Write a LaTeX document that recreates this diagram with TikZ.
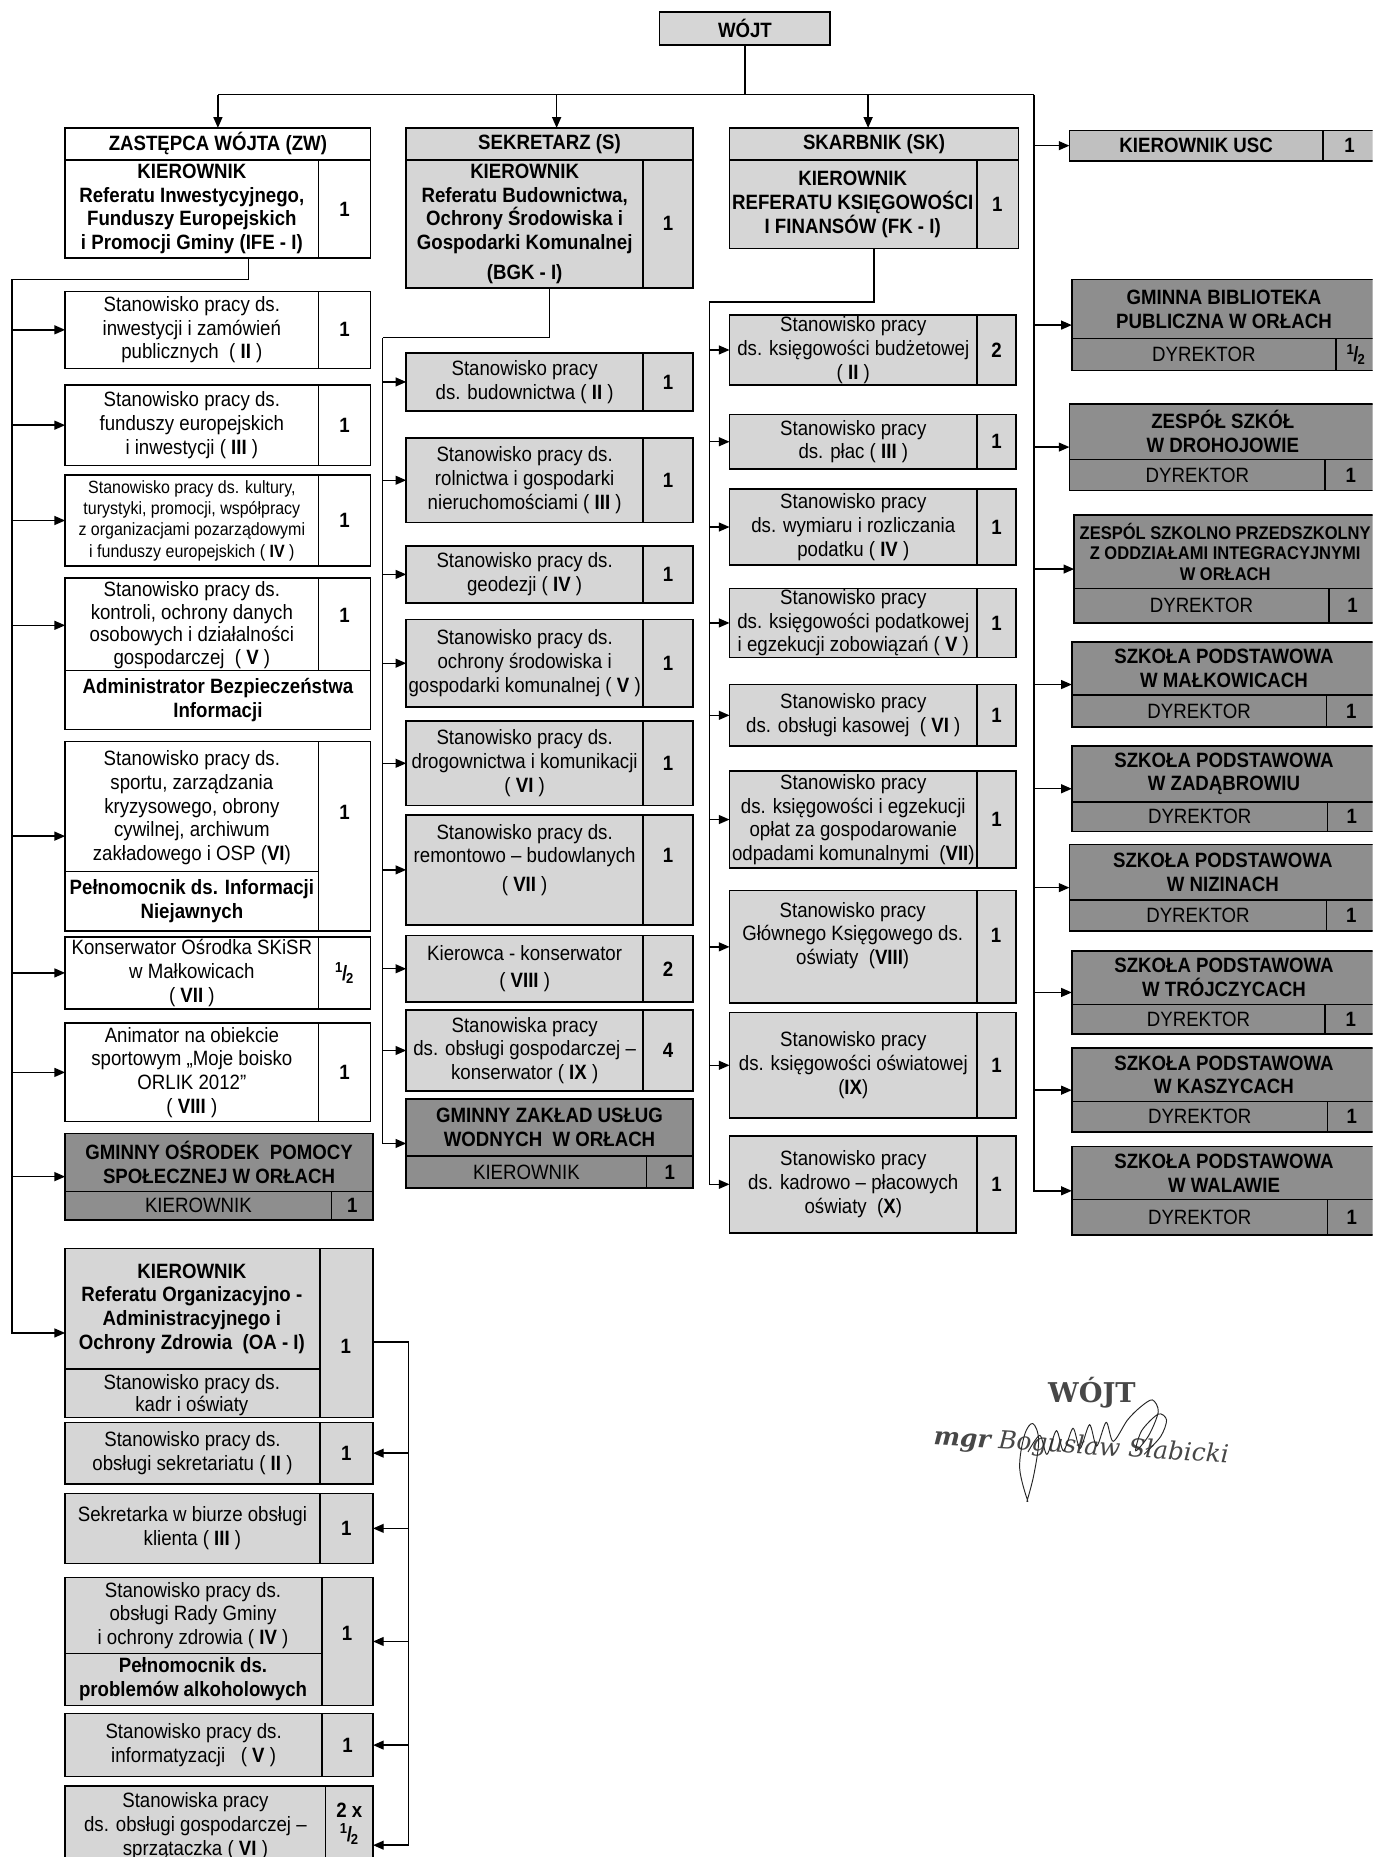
\documentclass[tikz,border=0pt]{standalone}
\usepackage{fontspec}
\setmainfont[FakeStretch=0.9]{Liberation Sans}
\newfontfamily\sigfont{DejaVu Serif}
\usetikzlibrary{arrows.meta}
\definecolor{lg}{RGB}{214,214,214}
\definecolor{mg}{RGB}{192,192,192}
\definecolor{dg}{RGB}{142,142,142}
\newcommand\fn{\fontsize{17.5}{20}\selectfont}
\newcommand\fnt{\fontsize{17.5}{19}\selectfont}
\newcommand\fsm{\fontsize{15}{18}\selectfont}
\newcommand\fsmb{\fontsize{15.5}{17.5}\selectfont}
\newcommand\half{\textsuperscript{1}\kern-.05em/\kern-.05em\textsubscript{2}}
\tikzset{
  bx/.style={draw, line width=1.3pt, inner sep=0pt, outer sep=0pt, anchor=north west},
  ln/.style={line width=1.3pt},
  tx/.style={align=center, inner sep=0pt, font=\fn},
  txb/.style={align=center, inner sep=0pt, font=\fn\bfseries},
  num/.style={align=center, inner sep=0pt, font=\fn\bfseries},
  con/.style={line width=1.2pt},
  arr/.style={line width=1.2pt, -{Triangle[length=9pt,width=7.5pt]}},
}
% name, fill, x1, y1, x2, y2, divx, text, number
\newcommand\orgbox[9]{%
  \node[bx, fill=#2, minimum width={#5-#3}, minimum height={#6-#4}] (#1) at (#3,#4) {};
  \draw[ln] (#7,#4) -- (#7,#6);
  \node[tx] (#1-t) at ({(#3+#7)/2},{(#4+#6)/2}) {#8};
  \node[num] (#1-n) at ({(#7+#5)/2},{(#4+#6)/2}) {#9};
}
% name, x1, x2, y1, ymid, y2, divx, header, number ; bottom label in \btm
\newcommand\darkbox[9]{%
  \node[bx, fill=dg, minimum width={#3-#2}, minimum height={#6-#4}] (#1) at (#2,#4) {};
  \draw[ln] (#2,#5) -- (#3,#5);
  \draw[ln] (#7,#5) -- (#7,#6);
  \node[txb] (#1-h) at ({(#2+#3)/2},{(#4+#5)/2}) {#8};
  \node[tx] (#1-b) at ({(#2+#7)/2},{(#5+#6)/2}) {\btm};
  \node[num] (#1-n) at ({(#7+#3)/2},{(#5+#6)/2}) {#9};
}
\begin{document}
\begin{tikzpicture}[x=1pt,y=-1pt]
\useasboundingbox (0,0) rectangle (1159,1568);
\clip (0,0) rectangle (1159,1568);
\fill[white] (0,0) rectangle (1159,1568);

% ---------- top ----------
\node[draw, line width=1.3pt, fill=lg, minimum width=144, minimum height=28, inner sep=0pt, font=\fn\bfseries] (w) at (629,24) {WÓJT};

% ZW
\node[bx, fill=white, minimum width=258, minimum height=110] (zw) at (55,108) {};
\draw[ln] (55,135) -- (313,135);
\draw[ln] (269,135) -- (269,218);
\node[txb] (zw-h) at (184,121.5) {ZASTĘPCA WÓJTA (ZW)};
\node[txb] (zw-t) at (162,176.5) {KIEROWNIK\\Referatu Inwestycyjnego,\\Funduszy Europejskich\\i Promocji Gminy (IFE - I)};
\node[num] (zw-n) at (291,176.5) {1};

% S
\node[bx, fill=lg, minimum width=242, minimum height=135] (s) at (343,108) {};
\draw[ln] (343,135) -- (585,135);
\draw[ln] (543,135) -- (543,243);
\node[txb] (s-h) at (464,121.5) {SEKRETARZ (S)};
\node[txb] (s-t) at (443,189) {KIEROWNIK\\Referatu Budownictwa,\\Ochrony Środowiska i\\Gospodarki Komunalnej\\[5pt](BGK - I)};
\node[num] (s-n) at (564,189) {1};

% SK
\node[bx, fill=lg, minimum width=244, minimum height=102] (sk) at (616,108) {};
\draw[ln] (616,135) -- (860,135);
\draw[ln] (825,135) -- (825,210);
\node[txb] (sk-h) at (738,121.5) {SKARBNIK (SK)};
\node[txb] (sk-t) at (720,172.5) {KIEROWNIK\\REFERATU KSIĘGOWOŚCI\\I FINANSÓW (FK - I)};
\node[num] (sk-n) at (842,172.5) {1};

% ---------- left column ----------
\orgbox{l1}{white}{55}{246}{313}{311}{269}{Stanowisko pracy ds.\\inwestycji i zamówień\\publicznych~ ( \textbf{II} )}{1}
\orgbox{l2}{white}{55}{325}{313}{393}{269}{Stanowisko pracy ds.\\funduszy europejskich\\i inwestycji ( \textbf{III} )}{1}
\begin{scope}[tx/.append style={font=\fsm}]
\orgbox{l3}{white}{55}{401}{313}{478}{269}{Stanowisko pracy ds. kultury,\\turystyki, promocji, współpracy\\z organizacjami pozarządowymi\\i funduszy europejskich ( \textbf{IV} )}{1}
\end{scope}
\node[bx, fill=white, minimum width=258, minimum height=128] (l4) at (55,488) {};
\draw[ln] (269,488) -- (269,566);
\draw[ln] (55,566) -- (313,566);
\node[tx, font=\fnt] (l4-t) at (162,528) {Stanowisko pracy ds.\\kontroli, ochrony danych\\osobowych i działalności\\gospodarczej~ ( \textbf{V} )};
\node[num] (l4-n) at (291,520) {1};
\node[txb] (l4-b) at (184,591) {Administrator Bezpieczeństwa\\Informacji};

\node[bx, fill=white, minimum width=258, minimum height=160] (l5) at (55,626) {};
\draw[ln] (269,626) -- (269,786);
\draw[ln] (55,736) -- (269,736);
\node[tx] (l5-t) at (162,682) {Stanowisko pracy ds.\\sportu, zarządzania\\kryzysowego, obrony\\cywilnej, archiwum\\zakładowego i OSP (\textbf{VI})};
\node[num] (l5-n) at (291,686) {1};
\node[txb] (l5-b) at (162,761) {Pełnomocnik ds. Informacji\\Niejawnych};

\orgbox{l6}{white}{55}{791}{313}{852}{269}{Konserwator Ośrodka SKiSR\\w Małkowicach\\( \textbf{VII} )}{\half}
\orgbox{l7}{white}{55}{864}{313}{947}{269}{Animator na obiekcie\\sportowym „Moje boisko\\ORLIK 2012”\\( \textbf{VIII} )}{1}
\def\btm{KIEROWNIK}
\darkbox{gops}{55}{315}{957}{1006}{1030}{280}{GMINNY OŚRODEK~ POMOCY\\SPOŁECZNEJ W ORŁACH}{1}

% OA
\node[bx, fill=lg, minimum width=260, minimum height=143] (oa) at (55,1054) {};
\draw[ln] (270,1054) -- (270,1197);
\draw[ln] (55,1156) -- (270,1156);
\node[txb] (oa-t) at (162,1105) {KIEROWNIK\\Referatu Organizacyjno -\\Administracyjnego i\\Ochrony Zdrowia~ (OA - I)};
\node[tx, font=\fnt] (oa-b) at (162,1178) {Stanowisko pracy ds.\\kadr i oświaty};
\node[num] (oa-n) at (292,1137) {1};

\orgbox{o10}{lg}{55}{1201}{315}{1253}{270}{Stanowisko pracy ds.\\obsługi sekretariatu ( \textbf{II} )}{1}
\orgbox{o11}{lg}{55}{1261}{315}{1320}{270}{Sekretarka w biurze obsługi\\klienta ( \textbf{III} )}{1}
\node[bx, fill=lg, minimum width=260, minimum height=108] (o12) at (55,1332) {};
\draw[ln] (272,1332) -- (272,1440);
\draw[ln] (55,1396) -- (272,1396);
\node[tx] (o12-t) at (163,1364) {Stanowisko pracy ds.\\obsługi Rady Gminy\\i ochrony zdrowia ( \textbf{IV} )};
\node[num] (o12-n) at (293,1379) {1};
\node[txb] (o12-b) at (163,1418) {Pełnomocnik ds.\\problemów alkoholowych};
\orgbox{o13}{lg}{55}{1447}{315}{1500}{272}{Stanowisko pracy ds.\\informatyzacji~~ ( \textbf{V} )}{1}
\node[bx, fill=lg, minimum width=260, minimum height=76] (o14) at (55,1508) {};
\draw[ln] (275,1508) -- (275,1584);
\node[tx] (o14-t) at (165,1542) {Stanowiska pracy\\ds. obsługi gospodarczej –\\sprzątaczka ( \textbf{VI} )};
\node[num] (o14-n) at (295,1540) {2 x\\\half};

% ---------- middle column ----------
\orgbox{m1}{lg}{343}{298}{585}{347}{543}{Stanowisko pracy\\ds. budownictwa ( \textbf{II} )}{1}
\orgbox{m2}{lg}{343}{370}{585}{441}{543}{Stanowisko pracy ds.\\rolnictwa i gospodarki\\nieruchomościami ( \textbf{III} )}{1}
\orgbox{m3}{lg}{343}{461}{585}{509}{543}{Stanowisko pracy ds.\\geodezji ( \textbf{IV} )}{1}
\orgbox{m4}{lg}{343}{523}{585}{597}{543}{Stanowisko pracy ds.\\ochrony środowiska i\\gospodarki komunalnej ( \textbf{V} )}{1}
\orgbox{m5}{lg}{343}{609}{585}{680}{543}{Stanowisko pracy ds.\\drogownictwa i komunikacji\\( \textbf{VI} )}{1}
\node[bx, fill=lg, minimum width=242, minimum height=93] (m6) at (343,688) {};
\draw[ln] (543,688) -- (543,781);
\node[tx] (m6-t) at (443,726) {Stanowisko pracy ds.\\remontowo – budowlanych\\[4pt]( \textbf{VII} )};
\node[num] (m6-n) at (564,722) {1};
\orgbox{m7}{lg}{343}{790}{585}{846}{543}{Kierowca - konserwator\\[3pt]( \textbf{VIII} )}{2}
\orgbox{m8}{lg}{343}{853}{585}{921}{543}{Stanowiska pracy\\ds. obsługi gospodarczej –\\konserwator ( \textbf{IX} )}{4}
\darkbox{gzuw}{343}{585}{928}{976}{1003}{546}{GMINNY ZAKŁAD USŁUG\\WODNYCH~ W ORŁACH}{1}

% ---------- SK column ----------
\orgbox{k1}{lg}{616}{266}{858}{325}{825}{Stanowisko pracy\\ds. księgowości budżetowej\\( \textbf{II} )}{2}
\orgbox{k2}{lg}{616}{350}{858}{396}{825}{Stanowisko pracy\\ds. płac ( \textbf{III} )}{1}
\orgbox{k3}{lg}{616}{413}{858}{477}{825}{Stanowisko pracy\\ds. wymiaru i rozliczania\\podatku ( \textbf{IV} )}{1}
\orgbox{k4}{lg}{616}{497}{858}{555}{825}{Stanowisko pracy\\ds. księgowości podatkowej\\i egzekucji zobowiązań ( \textbf{V} )}{1}
\orgbox{k5}{lg}{616}{578}{858}{630}{825}{Stanowisko pracy\\ds. obsługi kasowej~ ( \textbf{VI} )}{1}
\orgbox{k6}{lg}{616}{651}{858}{733}{825}{Stanowisko pracy\\ds. księgowości i egzekucji\\opłat za gospodarowanie\\odpadami komunalnymi~ (\textbf{VII})}{1}
\node[bx, fill=lg, minimum width=242, minimum height=95] (k7) at (616,752) {};
\draw[ln] (825,752) -- (825,847);
\node[tx] (k7-t) at (720,790) {Stanowisko pracy\\Głównego Księgowego ds.\\oświaty~ (\textbf{VIII})};
\node[num] (k7-n) at (841,790) {1};
\orgbox{k8}{lg}{616}{855}{858}{944}{825}{Stanowisko pracy\\ds. księgowości oświatowej\\(\textbf{IX})}{1}
\orgbox{k9}{lg}{616}{959}{858}{1041}{825}{Stanowisko pracy\\ds. kadrowo – płacowych\\oświaty~ (\textbf{X})}{1}

% ---------- right column ----------
\orgbox{usc}{mg}{903}{110}{1162}{136}{1117}{\bfseries KIEROWNIK USC}{1}
\def\btm{DYREKTOR}
\darkbox{r1}{905}{1162}{236}{286}{313}{1128}{GMINNA BIBLIOTEKA\\PUBLICZNA W ORŁACH}{\half}
\darkbox{r2}{903}{1162}{341}{388}{414}{1119}{ZESPÓŁ SZKÓŁ\\W DROHOJOWIE}{1}
\begin{scope}[txb/.append style={font=\fsmb\bfseries}]
\darkbox{r3}{907}{1162}{435}{497}{526}{1122}{ZESPÓL SZKOLNO PRZEDSZKOLNY\\Z ODDZIAŁAMI INTEGRACYJNYMI\\W ORŁACH}{1}
\end{scope}
\darkbox{r4}{905}{1162}{542}{587}{614}{1120}{SZKOŁA PODSTAWOWA\\W MAŁKOWICACH}{1}
\darkbox{r5}{905}{1162}{630}{677}{702}{1121}{SZKOŁA PODSTAWOWA\\W ZADĄBROWIU}{1}
\darkbox{r6}{903}{1162}{713}{760}{786}{1120}{SZKOŁA PODSTAWOWA\\W NIZINACH}{1}
\darkbox{r7}{905}{1162}{803}{848}{873}{1119}{SZKOŁA PODSTAWOWA\\W TRÓJCZYCACH}{1}
\darkbox{r8}{905}{1162}{885}{930}{956}{1121}{SZKOŁA PODSTAWOWA\\W KASZYCACH}{1}
\darkbox{r9}{905}{1162}{968}{1013}{1043}{1121}{SZKOŁA PODSTAWOWA\\W WALAWIE}{1}

% ---------- connectors ----------
\coordinate (bzw) at (184,80);
\coordinate (bs) at (470,80);
\coordinate (bsk) at (733,80);
\coordinate (brt) at (873,80);
\draw[con] (w.south) -- (w.south |- bzw);
\draw[con] (bzw) -- (brt);
\draw[arr] (bzw) -- (bzw |- zw.north);
\draw[arr] (bs) -- (bs |- s.north);
\draw[arr] (bsk) -- (bsk |- sk.north);
\draw[arr] (brt) |- (r9.west);
\foreach \n in {usc,r1,r2,r3,r4,r5,r6,r7,r8}
  \draw[arr] (brt |- \n.west) -- (\n.west);

% ZW trunk
\coordinate (zwo) at (210,218);
\coordinate (lt) at (10,236);
\draw[con] (zwo) |- (lt);
\draw[arr] (lt) |- (oa.west);
\foreach \n in {l1,l2,l3,l5,l6,l7,gops}
  \draw[arr] (lt |- \n.west) -- (\n.west);
\draw[arr] (lt |- l4-t) -- (l4.west |- l4-t);

% S trunk
\coordinate (mt) at (323,285);
\draw[con] (s.south) |- (mt);
\draw[arr] (mt) |- (gzuw.west);
\foreach \n in {m1,m2,m3,m4,m5,m6,m7,m8}
  \draw[arr] (mt |- \n.west) -- (\n.west);

% SK trunk
\coordinate (kt) at (599,255);
\draw[con] (sk.south) |- (kt);
\draw[arr] (kt) |- (k9.west);
\foreach \n in {k1,k2,k3,k4,k5,k6,k7,k8}
  \draw[arr] (kt |- \n.west) -- (\n.west);

% OA trunk
\coordinate (ot) at (345,1133);
\draw[con] (oa.east |- ot) -- (ot) -- (345,1558);
\foreach \n in {o10,o11,o12,o13}
  \draw[arr] (ot |- \n.east) -- (\n.east);
\draw[arr] (345,1558) -- (o14.east |- 345,1558);

% ---------- signature ----------
\node[font=\sigfont\bfseries\fontsize{23}{26}\selectfont, text=black!72] (sigw) at (922,1176) {WÓJT};
\node[font=\sigfont\itshape\fontsize{21}{24}\selectfont, text=black!72, rotate=-3.5] (sign) at (913,1222) {\textbf{mgr} Bogusław Słabicki};
\draw[line width=0.8pt, black!85] plot[smooth, tension=0.6] coordinates {
  (868,1268) (861,1240) (865,1212) (872,1202) (877,1216) (873,1245) (867,1268)};
\draw[line width=0.8pt, black!85] plot[smooth, tension=0.5] coordinates {
  (868,1226) (878,1212) (884,1228) (892,1208) (898,1225) (906,1206) (912,1223)
  (920,1203) (926,1221) (934,1201) (940,1217) (952,1199) (963,1188) (973,1182)
  (978,1192) (970,1212) (959,1225) (964,1208) (978,1194) (985,1199) (980,1213) (966,1228)};
\end{tikzpicture}
\end{document}
